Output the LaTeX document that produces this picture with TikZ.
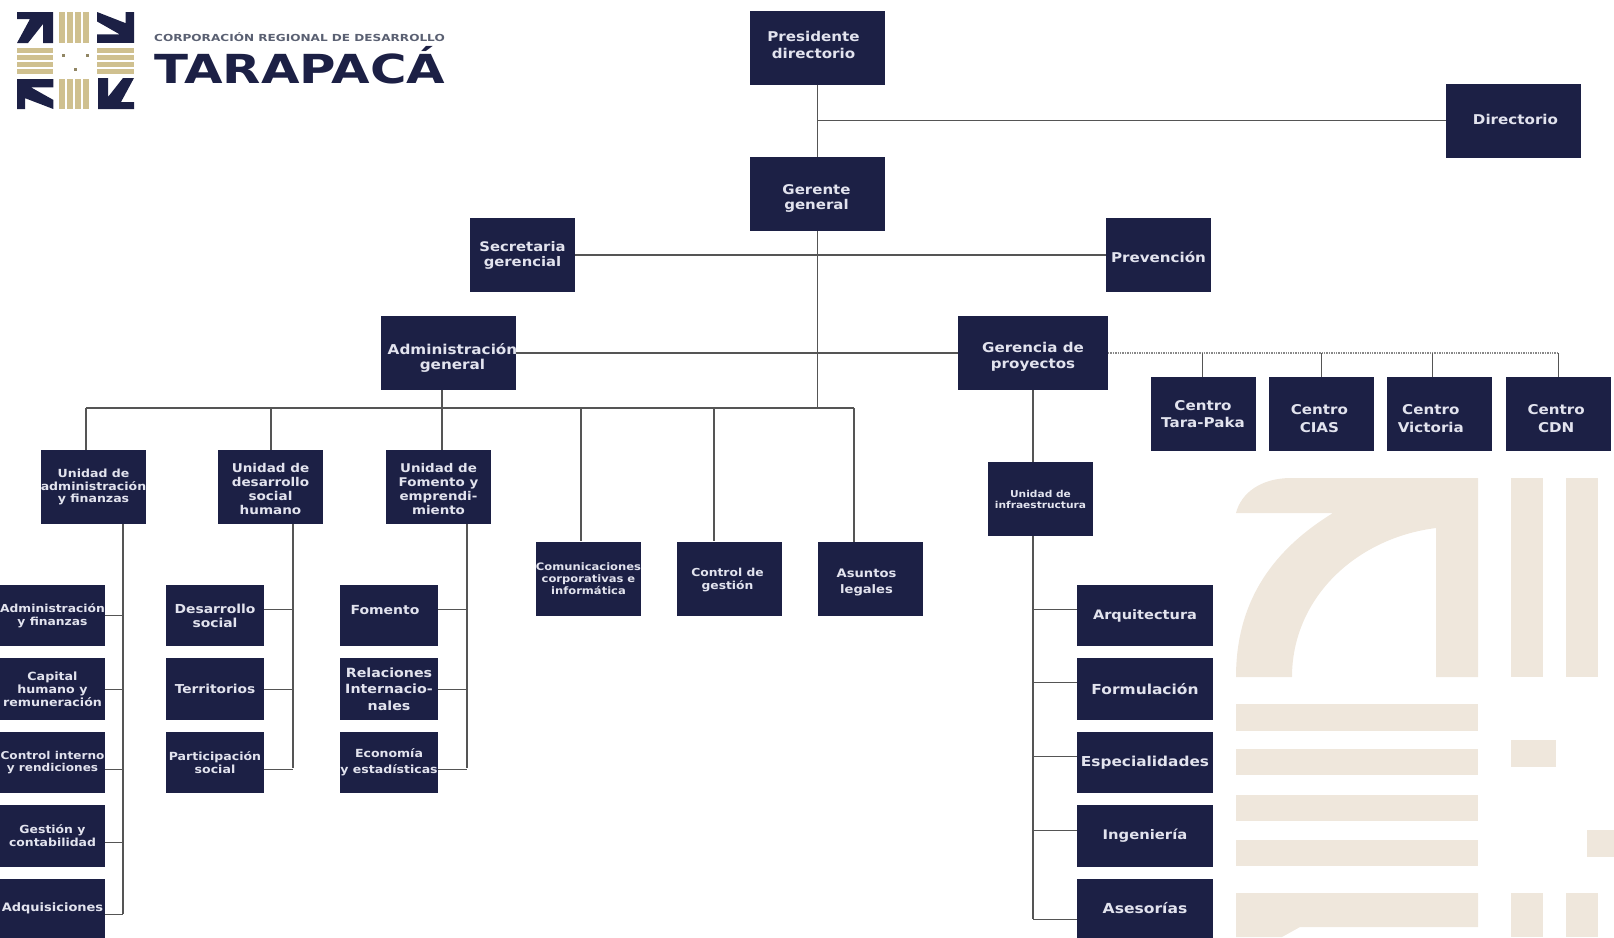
\documentclass[tikz,border=0pt]{standalone}
\usepackage{fontspec}
\setmainfont[FakeStretch=1.12]{DejaVu Sans}
\newfontfamily\logofont[FakeStretch=1.245]{DejaVu Sans}
\linespread{1.15}
\usetikzlibrary{positioning,calc}

\definecolor{navy}{HTML}{1C2045}
\definecolor{boxtext}{HTML}{E2E3EE}
\definecolor{cream}{HTML}{EFE7DC}
\definecolor{gold}{HTML}{CFC08F}
\definecolor{linegray}{HTML}{555555}
\definecolor{slogan}{HTML}{5A6072}

% moves a label inside its box: dx, dy, text
\newcommand{\nudge}[3]{\makebox[0pt]{\hspace*{\dimexpr2\dimexpr#1\relax\relax}\raisebox{\dimexpr#2-.22em\relax}[0pt][0pt]{\begin{tabular}{@{}c@{}}#3\end{tabular}}}}

\begin{document}
\begin{tikzpicture}[
        x=1pt, y=-1pt,
        fs/.style={font=\bfseries\fontsize{#1}{#1}\selectfont},
        box/.style={rectangle, fill=navy, text=boxtext, align=center, inner sep=0pt, outer sep=0pt, minimum width=105pt, minimum height=74pt, fs=13.5},
        wide/.style={box, minimum width=135pt},
        small/.style={box, minimum width=98pt, minimum height=61.5pt, fs=11},
        leftcol/.style={small, minimum width=105pt},
        rightcol/.style={small, minimum width=136pt, fs=13.5},
        link/.style={draw=linegray, line width=1.3pt},
        thin link/.style={draw=linegray, line width=0.8pt},
        dotlink/.style={draw=linegray!70, line width=1.6pt, dash pattern=on 1.4pt off 1pt},
        corner/.pic={\fill[pic actions] (0,199) .. controls (0,120) and (40,70) .. (97,35) -- (0,35) .. controls (5,15) and (25,0) .. (55,0) -- (242,0) -- (242,199) -- (200,199) -- (200,50) .. controls (120,60) and (56,120) .. (56,199) -- cycle;},
        logocorner/.pic={\fill[navy] (0,31) -- (13,7) -- (0,7) -- (0,0) -- (36,0) -- (36,31) -- (26,31) -- (26,12) -- (11,31) -- cycle;}
    ]
        \useasboundingbox (0,0) rectangle (1614,937);

        % watermark
        \pic[fill=cream] at (1236,478) {corner};
        \foreach \bx in {1511,1566} {
            \fill[cream] (\bx,478) rectangle (\bx+32,677);
            \fill[cream] (\bx,893) rectangle (\bx+32,937);
        }
        \foreach \by/\bh in {704/27,749/26,795/26,840/26}
            \fill[cream] (1236,\by) rectangle (1478,\by+\bh);
        \fill[cream] (1236,893) -- (1478,893) -- (1478,927) -- (1300,927) -- (1282,937) -- (1236,937) -- cycle;
        \fill[cream] (1511,740) rectangle (1556,767);
        \fill[cream] (1587,830) rectangle (1614,857);

        % logo
        \pic at (17,12) {logocorner};
        \pic[xscale=1.19, yscale=.86, rotate=-90] at (134,12) {logocorner};
        \pic[xscale=1.17, yscale=.83, rotate=90] at (17,109) {logocorner};
        \pic[rotate=180] at (134,109) {logocorner};
        \foreach \sx in {59,67,75,83} {
            \fill[gold] (\sx,12) rectangle (\sx+6,43);
            \fill[gold] (\sx,79) rectangle (\sx+6,109);
        }
        \foreach \sy in {48,55,62,69} {
            \fill[gold] (17,\sy) rectangle (53,\sy+5);
            \fill[gold] (97,\sy) rectangle (134,\sy+5);
        }
        \foreach \dx/\dy in {62/54,86/54,74/68}
            \fill[gold!70!black] (\dx,\dy) rectangle (\dx+3,\dy+3);
        \node[anchor=west, inner sep=0pt, text=slogan, font=\logofont\bfseries\fontsize{9.7}{10}\selectfont] (slogan) at (154,37) {CORPORACIÓN REGIONAL DE DESARROLLO};
        \node[anchor=west, inner sep=0pt, text=navy, font=\logofont\bfseries\fontsize{40}{40}\selectfont] (tarapaca) at (154,65) {TARAPACÁ};

        % upper levels
        \node[wide] (president) at (817.5,47.5) {\nudge{-4pt}{0pt}{Presidente\\[2pt]directorio}};
        \node[wide] (directorio) at (1513.5,120.5) {\nudge{2pt}{-2pt}{Directorio}};
        \node[wide, fs=13.4] (gerente) at (817.5,194) {\nudge{-1pt}{-5.5pt}{Gerente\\general}};
        \node[box, fs=13.2] (secretaria) at (522.5,255) {Secretaria\\gerencial};
        \node[box] (prevencion) at (1158.5,255) {\nudge{0pt}{-5pt}{Prevención}};
        \node[wide, fs=13.6] (admgeneral) at (448.5,353) {\nudge{4pt}{-6.5pt}{Administración\\general}};
        \node[wide, minimum width=150pt] (gerproyectos) at (1033,353) {\nudge{0pt}{-5pt}{Gerencia de\\proyectos}};

        % centros
        \node[box] (tarapaka) at (1203,414) {Centro\\[1pt]Tara-Paka};
        \node[box, right=13.4pt of tarapaka] (cias) {\nudge{-2pt}{-7pt}{Centro\\[2pt]CIAS}};
        \node[box, right=13.4pt of cias] (victoria) {\nudge{-9pt}{-7pt}{Centro\\[2pt]Victoria}};
        \node[box, right=13.4pt of victoria] (cdn) {\nudge{-2pt}{-7pt}{Centro\\[2pt]CDN}};

        % units
        \node[box, fs=11.2] (uadm) at (93.5,487) {Unidad de\\administración\\y finanzas};
        \node[box, fs=12.1] (udes) at (270.5,487) {\nudge{0pt}{-4pt}{Unidad de\\desarrollo\\social\\humano}};
        \node[box, fs=12] (ufom) at (438.5,487) {\nudge{0pt}{-4pt}{Unidad de\\Fomento y\\emprendi-\\miento}};
        \node[box, fs=10.3] (comunic) at (588.5,578.5) {Comunicaciones\\corporativas e\\informática};
        \node[box, right=36pt of comunic, fs=11] (control) {\nudge{-2pt}{-2pt}{Control de\\gestión}};
        \node[box, right=36pt of control, fs=11.7] (asuntos) {\nudge{-4pt}{-4.5pt}{Asuntos\\[2pt]legales}};
        \node[box, fs=9.5] (uinfra) at (1040.5,499) {Unidad de\\infraestructura};

        % left column
        \node[leftcol, fs=11] (adm1) at (52.5,615.5) {Administración\\y finanzas};
        \node[leftcol, below=12pt of adm1, fs=11.3] (adm2) {Capital\\humano y\\remuneración};
        \node[leftcol, below=12pt of adm2, fs=10.8] (adm3) {Control interno\\y rendiciones};
        \node[leftcol, below=12pt of adm3, fs=11.1] (adm4) {Gestión y\\contabilidad};
        \node[leftcol, below=12pt of adm4, minimum height=59pt, fs=11.6] (adm5) {Adquisiciones};

        \node[small, fs=12.4] (des1) at (215,615.5) {Desarrollo\\social};
        \node[small, below=12pt of des1, fs=12.3] (des2) {Territorios};
        \node[small, below=12pt of des2, fs=11.2] (des3) {Participación\\social};

        \node[small, fs=12.5] (fom1) at (389,615.5) {\nudge{-4pt}{4pt}{Fomento}};
        \node[small, below=12pt of fom1, fs=12.7] (fom2) {Relaciones\\[2pt]Internacio-\\[2pt]nales};
        \node[small, below=12pt of fom2, fs=11.2] (fom3) {Economía\\[3pt]y estadísticas};

        % right column
        \node[rightcol, fs=13] (arq) at (1145,615.5) {Arquitectura};
        \node[rightcol, below=12pt of arq, fs=13.8] (formul) {Formulación};
        \node[rightcol, below=12pt of formul, fs=13.7] (espec) {Especialidades};
        \node[rightcol, below=12pt of espec, fs=13.2] (inge) {Ingeniería};
        \node[rightcol, below=12pt of inge, minimum height=59pt, fs=13.9] (aseso) {Asesorías};

        % main connectors
        \coordinate (busleft) at (86,408);
        \coordinate (busright) at (854,408);
        \coordinate (busmid) at (817.5,408);
        \draw[link] (president) -- (gerente);
        \draw[link] (president) |- (directorio);
        \draw[link] (secretaria) -- (prevencion);
        \draw[link] (admgeneral) -- (gerproyectos);
        \draw[link] (gerente) -- (busmid);
        \draw[link] (busleft) -- (busright);
        \draw[link] (busleft) -- (busleft |- uadm.north);
        \draw[link] (271,408) -- (271,450);
        \draw[link] (442,390) -- (442,450);
        \draw[link] (581,408) -- (581,541);
        \draw[link] (714,408) -- (714,541);
        \draw[link] (busright) -- (busright |- asuntos.north);

        % trunks
        \coordinate (admtrunk) at (123,524);
        \coordinate (admend) at (123,914);
        \coordinate (destrunk) at (293,524);
        \coordinate (desend) at (293,768);
        \coordinate (fomtrunk) at (467,524);
        \coordinate (fomend) at (467,768);
        \coordinate (inftrunk) at (1033,536);
        \coordinate (infend) at (1033,919);
        \draw[link] (admtrunk) -- (admend);
        \draw[link] (destrunk) -- (desend);
        \draw[link] (fomtrunk) -- (fomend);
        \draw[link] (gerproyectos) -- (gerproyectos |- uinfra.north);
        \draw[link] (inftrunk) -- (infend);

        \foreach \n/\dy in {adm1/0,adm2/0,adm3/-6.5,adm4/-6.5,adm5/-6.5}
            \draw[thin link] ([yshift=\dy pt]\n.east) -- ([yshift=\dy pt]\n.east -| admtrunk);
        \foreach \n/\dy in {des1/6,des2/0,des3/-6.5}
            \draw[thin link] ([yshift=\dy pt]\n.east) -- ([yshift=\dy pt]\n.east -| destrunk);
        \foreach \n/\dy in {fom1/6,fom2/0,fom3/-6.5}
            \draw[thin link] ([yshift=\dy pt]\n.east) -- ([yshift=\dy pt]\n.east -| fomtrunk);
        \foreach \n/\dy in {arq/6,formul/7,espec/6,inge/6,aseso/-11.5}
            \draw[thin link] ([yshift=\dy pt]\n.west) -- ([yshift=\dy pt]\n.west -| inftrunk);

        % dotted branch
        \coordinate (dotend) at (1558,353);
        \draw[dotlink] (gerproyectos) -- (dotend);
        \draw[thin link] (1202,353) -- (1202,377);
        \draw[thin link] (1321,353) -- (1321,377);
        \draw[thin link] (1432,353) -- (1432,377);
        \draw[thin link] (dotend) -- (dotend |- cdn.north);
    \end{tikzpicture}
\end{document}
